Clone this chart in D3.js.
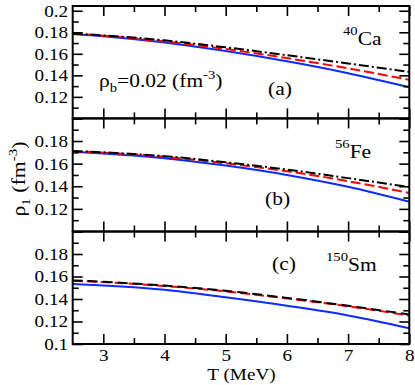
<!DOCTYPE html>
<html>
<head>
<meta charset="utf-8">
<script src="https://cdn.jsdelivr.net/npm/d3@7"></script>
<style>
  body { margin: 0; background: #fff; }
  svg { display: block; }
  text { font-family: "Liberation Serif", "Times New Roman", "DejaVu Serif", serif; fill: #000; }
</style>
</head>
<body>
<svg id="chart" width="415" height="385"></svg>
<script>
const temps = [2.5, 3, 4, 5, 6, 7, 8];

// (a) 40Ca
const caSolid   = [0.1785, 0.1764, 0.1705, 0.1625, 0.1530, 0.1420, 0.1290];
const caDashed  = [0.1787, 0.1768, 0.1715, 0.1645, 0.1560, 0.1465, 0.1358];
const caDashDot = [0.1788, 0.1771, 0.1725, 0.1660, 0.1587, 0.1510, 0.1432];

// (b) 56Fe
const feSolid   = [0.1705, 0.1690, 0.1648, 0.1583, 0.1500, 0.1395, 0.1263];
const feDashed  = [0.1710, 0.1697, 0.1660, 0.1603, 0.1533, 0.1445, 0.1340];
const feDashDot = [0.1712, 0.1700, 0.1666, 0.1612, 0.1548, 0.1472, 0.1393];

// (c) 150Sm
const smSolid  = [0.1533, 0.1521, 0.1483, 0.1415, 0.1340, 0.1254, 0.1140];
const smDashed = [0.1562, 0.1550, 0.1515, 0.1468, 0.1405, 0.1335, 0.1253];
const smBlack  = [0.1565, 0.1553, 0.1519, 0.1473, 0.1410, 0.1340, 0.1262];

// ticks
const yMajor = [0.1, 0.12, 0.14, 0.16, 0.18, 0.2];
const yMinor = [0.11, 0.13, 0.15, 0.17, 0.19];
const xMajor = [3, 4, 5, 6, 7, 8];
const xMinor = [3.5, 4.5, 5.5, 6.5, 7.5];
const yLabelsA = [0.12, 0.14, 0.16, 0.18, 0.2];
const yLabelsB = [0.12, 0.14, 0.16, 0.18];
const yLabelsC = [0.1, 0.12, 0.14, 0.16, 0.18];

const left = 72.7, right = 409.3;
const serif = '"Liberation Serif", "Times New Roman", "DejaVu Serif", serif';
const stretch = "scale(1.13,1)";

const svg = d3.select("#chart");
const x = d3.scaleLinear().domain([2.5, 8]).range([left, right]);

const styles = {
  solid:   {color: "#0a2cff", dash: null},
  dashed:  {color: "#ff0000", dash: "10,4"},
  dashdot: {color: "#000000", dash: "10,3,2,3"},
  black:   {color: "#000000", dash: "10,5"}
};

const panels = [
  {top: 6, bottom: 118.4, ymax: 0.2044, labels: yLabelsA, xLabels: false,
   series: [["solid", caSolid], ["dashed", caDashed], ["dashdot", caDashDot]],
   tag: "(a)", tagX: 268, tagY: 95, iso: ["40", "Ca"], isoX: 343, isoY: 45},
  {top: 118.4, bottom: 231.5, ymax: 0.2, labels: yLabelsB, xLabels: false,
   series: [["solid", feSolid], ["dashed", feDashed], ["dashdot", feDashDot]],
   tag: "(b)", tagX: 265, tagY: 205, iso: ["56", "Fe"], isoX: 335, isoY: 158},
  {top: 231.5, bottom: 344, ymax: 0.2, labels: yLabelsC, xLabels: true,
   series: [["solid", smSolid], ["dashed", smDashed], ["black", smBlack]],
   tag: "(c)", tagX: 272, tagY: 270, iso: ["150", "Sm"], isoX: 326, isoY: 271}
];

const fmt = labels => d => labels.some(v => Math.abs(v - d) < 1e-9) ? String(d) : "";

panels.forEach(p => {
  const y = d3.scaleLinear().domain([0.1, p.ymax]).range([p.bottom, p.top]);
  const g = svg.append("g");

  const clipId = "clip" + p.top;
  svg.append("clipPath").attr("id", clipId)
    .append("rect").attr("x", left).attr("y", p.top)
    .attr("width", right - left).attr("height", p.bottom - p.top);

  // curves
  const line = d3.line()
    .x((d, i) => x(temps[i]))
    .y(d => y(d))
    .curve(d3.curveMonotoneX);
  const curves = g.append("g").attr("clip-path", `url(#${clipId})`);
  p.series.forEach(([kind, vals]) => {
    const s = styles[kind];
    curves.append("path")
      .datum(vals)
      .attr("d", line)
      .attr("fill", "none")
      .attr("stroke", s.color)
      .attr("stroke-width", 2)
      .attr("stroke-dasharray", s.dash);
  });

  // axes with inward ticks
  const addAxis = (axis, tx, ty) => {
    const a = g.append("g").attr("transform", `translate(${tx},${ty})`).call(axis);
    a.attr("font-family", serif);
    a.select(".domain").remove();
    a.selectAll("line").attr("stroke-width", 1.6);
    a.selectAll("text").attr("font-size", 17).attr("font-family", serif).attr("transform", stretch);
    return a;
  };
  addAxis(d3.axisLeft(y).tickValues(yMajor).tickSize(-10).tickPadding(4).tickFormat(fmt(p.labels)), left, 0);
  addAxis(d3.axisLeft(y).tickValues(yMinor).tickSize(-6).tickFormat(""), left, 0);
  addAxis(d3.axisRight(y).tickValues(yMajor).tickSize(-10).tickFormat(""), right, 0);
  addAxis(d3.axisRight(y).tickValues(yMinor).tickSize(-6).tickFormat(""), right, 0);
  addAxis(d3.axisTop(x).tickValues(xMajor).tickSize(-10).tickFormat(""), 0, p.top);
  addAxis(d3.axisTop(x).tickValues(xMinor).tickSize(-6).tickFormat(""), 0, p.top);
  addAxis(d3.axisBottom(x).tickValues(xMajor).tickSize(-10).tickPadding(5)
    .tickFormat(p.xLabels ? d3.format("d") : ""), 0, p.bottom);
  addAxis(d3.axisBottom(x).tickValues(xMinor).tickSize(-6).tickFormat(""), 0, p.bottom);

  // frame
  g.append("rect")
    .attr("x", left).attr("y", p.top)
    .attr("width", right - left).attr("height", p.bottom - p.top)
    .attr("fill", "none").attr("stroke", "#000").attr("stroke-width", 2);

  // panel tag and nucleus
  g.append("text").attr("transform", `translate(${p.tagX},${p.tagY}) ${stretch}`)
    .attr("font-family", serif).attr("font-size", 19).text(p.tag);
  const iso = g.append("text").attr("transform", `translate(${p.isoX},${p.isoY}) ${stretch}`)
    .attr("font-family", serif);
  iso.append("tspan").attr("font-size", 13).attr("dy", -10).text(p.iso[0]);
  iso.append("tspan").attr("font-size", 19).attr("dy", 10).text(p.iso[1]);
});

// density note in panel (a)
const note = svg.append("text").attr("transform", `translate(99,86.5) ${stretch}`)
  .attr("font-family", serif).attr("font-size", 19);
note.append("tspan").text("ρ");
note.append("tspan").attr("font-size", 13).attr("dy", 5).text("b");
note.append("tspan").attr("dy", -5).text("=0.02 (fm");
note.append("tspan").attr("font-size", 13).attr("dy", -8).text("-3");
note.append("tspan").attr("dy", 8).text(")");

// axis titles
svg.append("text").attr("transform", `translate(241.5,380) ${stretch}`)
  .attr("font-family", serif).attr("text-anchor", "middle").attr("font-size", 17).text("T (MeV)");

const yt = svg.append("text")
  .attr("transform", "translate(25,179) rotate(-90) scale(1.15,1)")
  .attr("font-family", serif).attr("text-anchor", "middle").attr("font-size", 19);
yt.append("tspan").text("ρ");
yt.append("tspan").attr("font-size", 13).attr("dy", 5).text("1");
yt.append("tspan").attr("dy", -5).text(" (fm");
yt.append("tspan").attr("font-size", 13).attr("dy", -8).text("-3");
yt.append("tspan").attr("dy", 8).text(")");
</script>
</body>
</html>
